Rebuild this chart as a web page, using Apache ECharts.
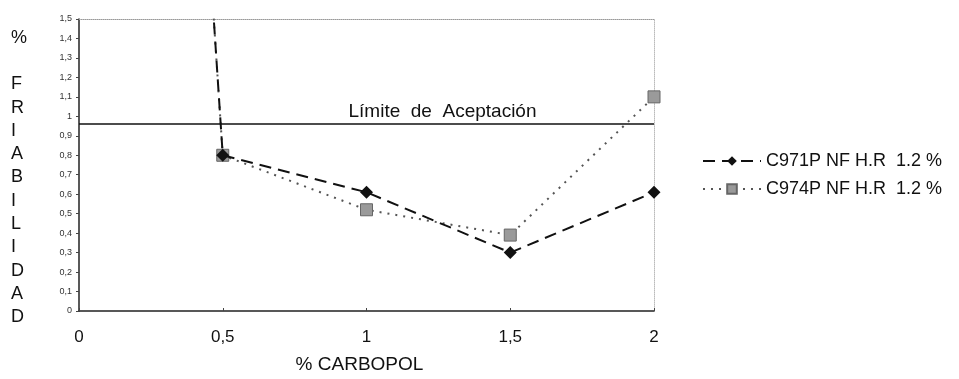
<!DOCTYPE html>
<html>
<head>
<meta charset="utf-8">
<script src="https://cdn.jsdelivr.net/npm/echarts@6/dist/echarts.min.js"></script>
<style>
  html, body { margin: 0; padding: 0; background: #fff; }
  #chart { width: 959px; height: 379px; }
</style>
</head>
<body>
<div id="chart"></div>
<script>
// % carbopol (x) and friabilidad (y)
const carbopol = [0, 0.5, 1, 1.5, 2];
const c971p = [12, 0.8, 0.61, 0.3, 0.61];   // first point runs off the top
const c974p = [12, 0.8, 0.52, 0.39, 1.1];
const limite = 0.96;
const seriesNames = ['C971P NF H.R  1.2 %', 'C974P NF H.R  1.2 %'];
const yTitle = ['%', '', 'F', 'R', 'I', 'A', 'B', 'I', 'L', 'I', 'D', 'A', 'D'];

const font = 'Liberation Sans, Arial, sans-serif';
const comma = v => String(+Number(v).toFixed(1)).replace('.', ',');

const chart = echarts.init(document.getElementById('chart'));

const option = {
  backgroundColor: '#fff',
  animation: false,
  grid: { left: 79, right: 305, top: 19, bottom: 64, containLabel: false },
  legend: {
    orient: 'vertical',
    left: 697,
    top: 147,
    itemGap: 10,
    itemWidth: 58,
    itemHeight: 12,
    textStyle: { fontFamily: font, fontSize: 18, color: '#111' },
    data: seriesNames
  },
  graphic: [{
    type: 'text',
    left: 11,
    top: 26,
    style: {
      text: yTitle.join('\n'),
      font: '18px ' + font,
      fill: '#111',
      lineHeight: 23.3,
      align: 'center'
    }
  }],
  xAxis: [{
    type: 'value',
    min: 0, max: 2, interval: 0.5,
    name: '% CARBOPOL',
    nameLocation: 'middle',
    nameGap: 44,
    nameTextStyle: { fontFamily: font, fontSize: 19, color: '#111', padding: [0, 14, 0, 0] },
    axisLine: { lineStyle: { color: '#222', width: 1.5 } },
    axisTick: { show: true, inside: true, length: 3, lineStyle: { color: '#444' } },
    axisLabel: { fontFamily: font, fontSize: 17, color: '#111', margin: 18, formatter: comma },
    splitLine: { show: false }
  }, {
    type: 'value', position: 'top', min: 0, max: 2,
    axisLine: { show: true, onZero: false, lineStyle: { color: '#999', type: 'dotted' } },
    axisTick: { show: false }, axisLabel: { show: false }, splitLine: { show: false }
  }],
  yAxis: [{
    type: 'value',
    min: 0, max: 1.5, interval: 0.1,
    axisLine: { show: true, lineStyle: { color: '#222', width: 1.5 } },
    axisTick: { show: true, length: 3, lineStyle: { color: '#444' } },
    axisLabel: { fontFamily: font, fontSize: 9, color: '#333', margin: 7, formatter: comma },
    splitLine: { show: false }
  }, {
    type: 'value', position: 'right', min: 0, max: 1.5,
    axisLine: { show: true, onZero: false, lineStyle: { color: '#bbb', type: 'dotted' } },
    axisTick: { show: false }, axisLabel: { show: false }, splitLine: { show: false }
  }],
  series: [{
    name: seriesNames[0],
    type: 'line',
    data: carbopol.map((x, i) => [x, c971p[i]]),
    clip: true,
    symbol: 'diamond',
    symbolSize: 13,
    itemStyle: { color: '#111' },
    lineStyle: { color: '#111', width: 2, type: [12, 7] },
    markLine: {
      silent: true,
      symbol: ['none', 'none'],
      lineStyle: { color: '#111', width: 1.5, type: 'solid' },
      label: {
        show: true,
        position: 'insideMiddleTop',
        formatter: 'Límite  de  Aceptación',
        fontFamily: font,
        fontSize: 19,
        color: '#111',
        distance: 3,
        offset: [76, 0]
      },
      data: [{ yAxis: limite }]
    },
    z: 3
  }, {
    name: seriesNames[1],
    type: 'line',
    data: carbopol.map((x, i) => [x, c974p[i]]),
    clip: true,
    symbol: 'rect',
    symbolSize: 12,
    itemStyle: { color: '#9a9a9a', borderColor: '#666', borderWidth: 1 },
    lineStyle: { color: '#555', width: 2, type: [2, 6] },
    z: 2
  }]
};

chart.setOption(option);
</script>
</body>
</html>
